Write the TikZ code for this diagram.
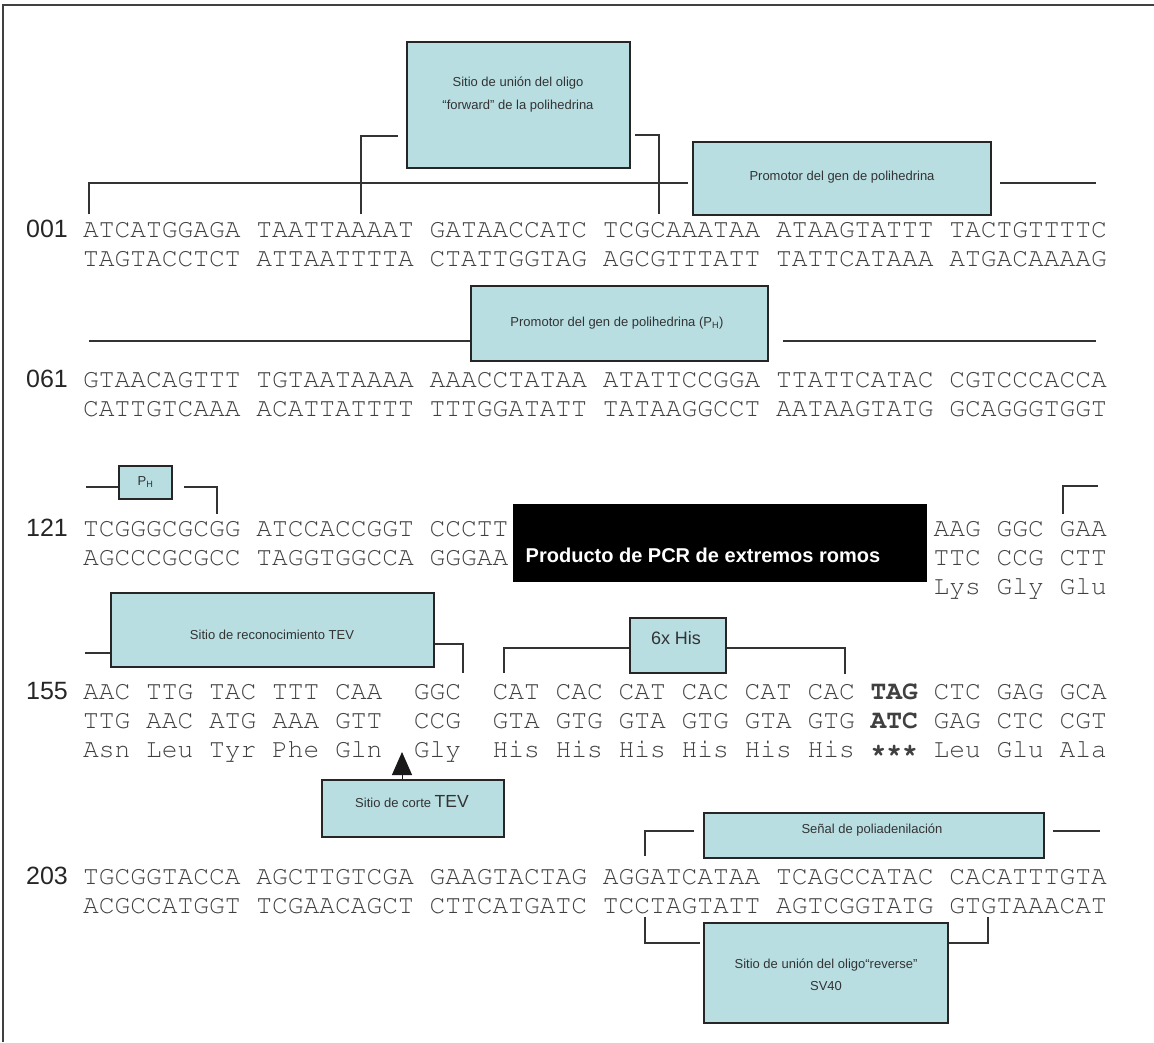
\documentclass[tikz,border=0pt]{standalone}
\usepackage[T1]{fontenc}
\usepackage{fontspec}
\setmainfont{Liberation Sans}
\usetikzlibrary{arrows.meta}

\definecolor{tagblue}{RGB}{184,222,226}
\newcommand{\courfont}{\fontencoding{T1}\fontfamily{pcr}\fontsize{26.25}{29}\selectfont}

\tikzset{
  seq/.style={font=\courfont, text=black!75, anchor=base west, inner sep=0pt},
  num/.style={font=\fontsize{25}{29}\selectfont, text=black!85, anchor=base west, inner sep=0pt},
  tagbox/.style={draw=black!85, line width=1.5pt, fill=tagblue, inner sep=0pt},
  tagtxt/.style={font=\fontsize{13}{23}\selectfont, text=black!80, align=center, inner sep=0pt},
  brk/.style={draw=black!80, line width=2.5pt},
}

\begin{document}
\begin{tikzpicture}[x=1pt, y=-1pt]
\useasboundingbox (0,0) rectangle (1154,1042);
\draw[line width=2pt, black!75] (3,1042) -- (3,5) -- (1154,5);

% the plain rows
\foreach \nm/\yy/\up/\dn in {
  001/237.5/ATCATGGAGA TAATTAAAAT GATAACCATC TCGCAAATAA ATAAGTATTT TACTGTTTTC/TAGTACCTCT ATTAATTTTA CTATTGGTAG AGCGTTTATT TATTCATAAA ATGACAAAAG,
  061/387.5/GTAACAGTTT TGTAATAAAA AAACCTATAA ATATTCCGGA TTATTCATAC CGTCCCACCA/CATTGTCAAA ACATTATTTT TTTGGATATT TATAAGGCCT AATAAGTATG GCAGGGTGGT,
  203/884.5/TGCGGTACCA AGCTTGTCGA GAAGTACTAG AGGATCATAA TCAGCCATAC CACATTTGTA/ACGCCATGGT TCGAACAGCT CTTCATGATC TCCTAGTATT AGTCGGTATG GTGTAAACAT}{
    \node[num] (n\nm) at (26,\yy) {\nm};
    \node[seq] (t\nm) at (83,\yy) {\up};
    \node[seq] (b\nm) at (83,\yy+29) {\dn};
  }

% 121
\node[num] (n121) at (26,536.5) {121};
\node[seq] (t121) at (83,536.5) {TCGGGCGCGG ATCCACCGGT CCCTT};
\node[seq] (b121) at (83,565.5) {AGCCCGCGCC TAGGTGGCCA GGGAA};
\node[seq] (t121r) at (933.5,536.5) {AAG GGC GAA};
\node[seq] (b121r) at (933.5,565.5) {TTC CCG CTT};
\node[seq] (a121r) at (933.5,594.5) {Lys Gly Glu};

% 155
\node[num] (n155) at (26,699.5) {155};
\node[seq] (t155) at (83,699.5) {AAC TTG TAC TTT CAA~~GGC~~CAT CAC CAT CAC CAT CAC \textbf{TAG} CTC GAG GCA};
\node[seq] (b155) at (83,728.5) {TTG AAC ATG AAA GTT~~CCG~~GTA GTG GTA GTG GTA GTG \textbf{ATC} GAG CTC CGT};
\node[seq] (a155) at (83,757.5) {Asn Leu Tyr Phe Gln~~Gly~~His His His His His His \textbf{***} Leu Glu Ala};

% brackets
\draw[brk] (89,214) -- (89,183) -- (688,183);
\draw[brk] (361,214) -- (361,136) -- (398,136);
\draw[brk] (635,135) -- (659,135) -- (659,214);
\draw[brk] (1000,183) -- (1096,183);
\draw[brk] (89,341) -- (471,341);
\draw[brk] (783,341) -- (1096,341);
\draw[brk] (86,487) -- (119,487);
\draw[brk] (184,487) -- (217,487) -- (217,514);
\draw[brk] (1063,514) -- (1063,486) -- (1098,486);
\draw[brk] (85,653) -- (111,653);
\draw[brk] (434,644) -- (463,644) -- (463,673);
\draw[brk] (504,673) -- (504,648) -- (630,648);
\draw[brk] (726,648) -- (845,648) -- (845,674);
\draw[brk] (645,856) -- (645,831) -- (694,831);
\draw[brk] (1053,831) -- (1100,831);
\draw[brk] (645,917) -- (645,943) -- (700,943);
\draw[brk] (948,943) -- (988,943) -- (988,917);

% boxes
\node[tagbox, minimum width=223, minimum height=126] (forw) at (518.5,105) {};
\node[tagtxt] (forwt) at (518,94.5) {Sitio de unión del oligo\\``forward'' de la polihedrina};
\node[tagbox, minimum width=298, minimum height=73] (prom1) at (842,178.5) {};
\node[tagtxt] (prom1t) at (842,177) {Promotor del gen de polihedrina};
\node[tagbox, minimum width=297, minimum height=75] (prom2) at (619.5,323.5) {};
\node[tagtxt] (prom2t) at (617,323) {Promotor del gen de polihedrina (P\textsubscript{H})};
\node[tagbox, minimum width=53, minimum height=33] (ph) at (145.5,482.5) {};
\node[tagtxt] (pht) at (145.5,482) {P\textsubscript{H}};

\node[fill=black, minimum width=414, minimum height=78, inner sep=0pt] (pcr) at (720,543) {};
\node[font=\fontsize{20}{24}\selectfont\bfseries, text=white, inner sep=0pt] (pcrt) at (703,555) {Producto de PCR de extremos romos};

\node[tagbox, minimum width=323, minimum height=74] (tevrec) at (272.5,630) {};
\node[tagtxt] (tevrect) at (272,635) {Sitio de reconocimiento TEV};
\node[tagbox, minimum width=96, minimum height=55] (his) at (678,645.5) {};
\node[tagtxt, font=\fontsize{18}{20}\selectfont] (hist) at (676,638) {6x His};

\node[tagbox, minimum width=182, minimum height=57] (cut) at (413,808.5) {};
\node[tagtxt] (cutt) at (412,802) {Sitio de corte {\fontsize{17.5}{20}\selectfont TEV}};
\coordinate (cuttip) at (402,752);
\draw[-{Triangle[width=20pt,length=23pt]}, line width=1pt, black!90] (cut.north -| cuttip) -- (cuttip);

\node[tagbox, minimum width=340, minimum height=45] (senal) at (874,835.5) {};
\node[tagtxt] (senalt) at (872,830) {Señal de poliadenilación};
\node[tagbox, minimum width=244, minimum height=100] (rev) at (826,973) {};
\node[tagtxt, font=\fontsize{13}{22}\selectfont] (revt) at (826,975) {Sitio de unión del oligo``reverse''\\SV40};
\end{tikzpicture}
\end{document}
